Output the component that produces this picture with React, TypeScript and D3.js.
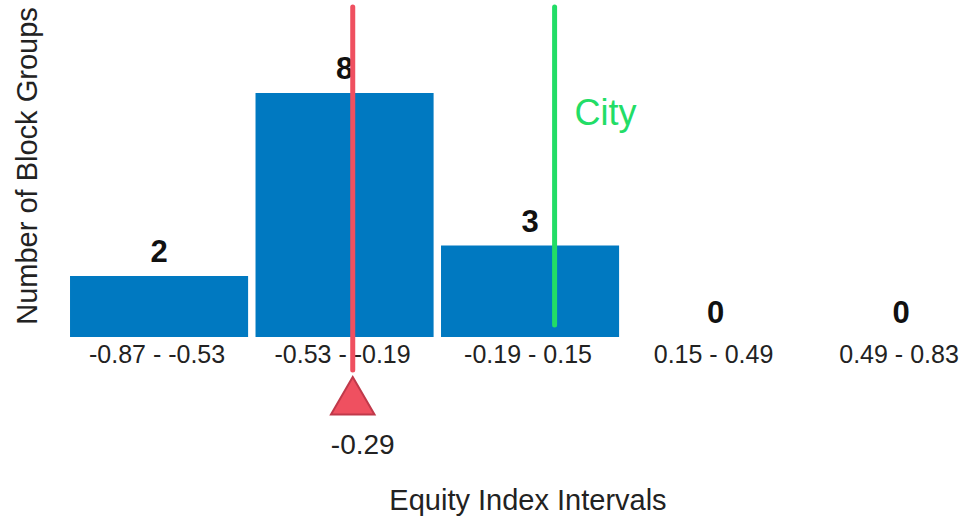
import React from 'react';
import * as d3 from 'd3';

// histogram bins of the equity index and the block group counts in each
const intervals = ['-0.87 - -0.53', '-0.53 - -0.19', '-0.19 - 0.15', '0.15 - 0.49', '0.49 - 0.83'];
const counts = [2, 8, 3, 0, 0];
const axisMin = -0.87;
const axisMax = 0.83;

// where the markers sit along the axis, and what they say
const regionAt = -0.345;
const regionLabel = '-0.29';
const cityAt = 0.025;
const cityLabel = 'City';

const W = 966;
const H = 518;
const FONT = '"Liberation Sans", Arial, sans-serif';

function App() {
  const x = d3.scaleBand<string>().domain(intervals).range([62.6, 997.5]).padding(0.04);
  const y = d3.scaleLinear().domain([0, d3.max(counts) as number]).range([337, 93]);
  const half = (x.step() - x.bandwidth()) / 2;
  const xv = d3
    .scaleLinear()
    .domain([axisMin, axisMax])
    .range([(x(intervals[0]) as number) - half, (x(intervals[intervals.length - 1]) as number) + x.bandwidth() + half]);

  const rx = xv(regionAt);
  const cx = xv(cityAt);
  const tri = d3.symbol().type(d3.symbolTriangle).size(820)();

  return (
    <div style={{ position: 'fixed', left: 0, top: 0, background: '#fff' }}>
      <svg width={W} height={H} style={{ display: 'block', fontFamily: FONT }}>
        {counts.map((c, i) => (
          <g key={intervals[i]}>
            {c > 0 && (
              <rect
                x={x(intervals[i])}
                y={y(c)}
                width={x.bandwidth()}
                height={y(0) - y(c)}
                fill="#0079c1"
              />
            )}
            <text
              x={(x(intervals[i]) as number) + x.bandwidth() / 2}
              y={y(c) - 14}
              textAnchor="middle"
              fontSize={31}
              fontWeight="bold"
              fill="#111"
            >
              {c}
            </text>
            <text
              x={(x(intervals[i]) as number) + x.bandwidth() / 2 - 2}
              y={363}
              textAnchor="middle"
              fontSize={25}
              fill="#222"
            >
              {intervals[i]}
            </text>
          </g>
        ))}

        {/* city marker */}
        <line x1={cx} x2={cx} y1={7} y2={325} stroke="#22dd66" strokeWidth={5} strokeLinecap="round" />
        <text x={cx + 20} y={125} fontSize={36} fill="#22dd66">
          {cityLabel}
        </text>

        {/* region marker */}
        <line x1={rx} x2={rx} y1={7} y2={370} stroke="#ef5060" strokeWidth={5} strokeLinecap="round" />
        <path d={tri as string} transform={`translate(${rx},${402})`} fill="#ef5060" stroke="#c0394a" strokeWidth={2} />
        <text x={rx + 10} y={454} textAnchor="middle" fontSize={28} fill="#222">
          {regionLabel}
        </text>

        <text x={528} y={510} textAnchor="middle" fontSize={29} fill="#222">
          Equity Index Intervals
        </text>
        <text transform="translate(37,166) rotate(-90)" textAnchor="middle" fontSize={29} fill="#222">
          Number of Block Groups
        </text>
      </svg>
    </div>
  );
}

export default App;
